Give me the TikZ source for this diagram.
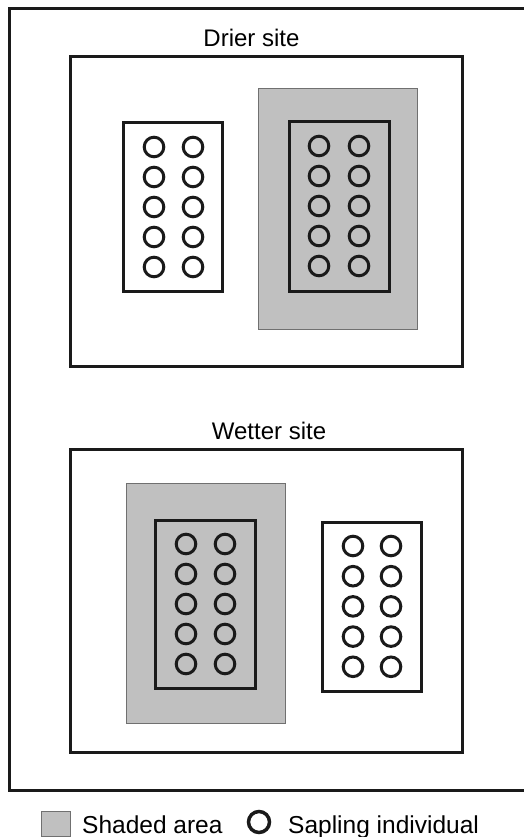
\documentclass[tikz,border=0pt]{standalone}
\usepackage{fontspec}
\setmainfont{Liberation Sans}
\definecolor{shade}{HTML}{C0C0C0}
\definecolor{shadeedge}{HTML}{707070}
\definecolor{ink}{HTML}{1A1A1A}
\tikzset{
  frame/.style={draw=ink, line width=3pt},
  shadedarea/.style={fill=shade, draw=shadeedge, line width=1pt},
  sapling/.style={draw=ink, line width=3pt},
  lbl/.style={font=\fontsize{24}{28}\selectfont, anchor=base, inner sep=0pt},
}
\begin{document}
\begin{tikzpicture}[x=1pt,y=-1pt]
\useasboundingbox (0,0) rectangle (523,837);
% outer frame (right edge runs off the picture)
\draw[frame] (9,9) rectangle (540,790);
% Drier site
\node[lbl] (drier) at (251.5,47) {Drier site};
\draw[frame] (70,57) rectangle (462,366);
\draw[shadedarea] (258,89) rectangle (417,329);
\draw[frame, fill=white] (123,123) rectangle (222,291);
\draw[frame] (289,122) rectangle (389,291);
\foreach \y in {0,...,4} {
  \draw[sapling] (154,147+30*\y) circle (9.8);
  \draw[sapling] (193,147+30*\y) circle (9.8);
  \draw[sapling] (319,146+30*\y) circle (9.8);
  \draw[sapling] (359,146+30*\y) circle (9.8);
}
% Wetter site
\node[lbl] (wetter) at (269,439) {Wetter site};
\draw[frame] (70,449) rectangle (462,752);
\draw[shadedarea] (126,483) rectangle (285,723);
\draw[frame] (155,520) rectangle (255,688);
\draw[frame, fill=white] (322,522) rectangle (421,691);
\foreach \y in {0,...,4} {
  \draw[sapling] (186,544+30*\y) circle (9.8);
  \draw[sapling] (225,544+30*\y) circle (9.8);
  \draw[sapling] (353,546+30.2*\y) circle (9.8);
  \draw[sapling] (391,546+30.2*\y) circle (9.8);
}
% legend
\draw[shadedarea] (41,811) rectangle (70,836);
\node[lbl, anchor=base west, font=\fontsize{24.5}{28}\selectfont] (shadedlbl) at (82,833) {Shaded area};
\draw[sapling, line width=3.5pt] (259,822) circle (10.5);
\node[lbl, anchor=base west, font=\fontsize{24.5}{28}\selectfont] (saplbl) at (288,833) {Sapling individual};
\end{tikzpicture}
\end{document}
